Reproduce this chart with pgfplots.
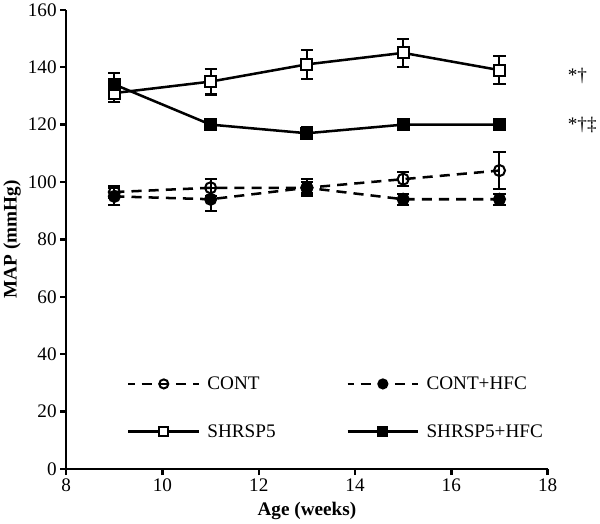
\documentclass[border=0pt]{standalone}
\usepackage{fontspec}
\setmainfont{Liberation Serif}
\usepackage{pgfplots}
\pgfplotsset{compat=1.18}
\begin{document}
\begin{tikzpicture}
\begin{axis}[
  scale only axis,
  width=477pt, height=455pt,
  xmin=8, xmax=18, ymin=0, ymax=160,
  axis lines=left,
  axis line style={line width=2.5pt, -},
  xtick={8,10,...,18},
  ytick={0,20,...,160},
  tick style={line width=2.5pt, black},
  major tick length=6pt,
  tick align=outside,
  tick label style={font=\fontsize{19}{22}\selectfont},
  /pgf/number format/assume math mode=true,
  xlabel={\bfseries Age (weeks)},
  ylabel={\bfseries MAP (mmHg)},
  label style={font=\fontsize{19}{22}\selectfont},
  xlabel style={yshift=-4pt},
  clip=false,
  legend columns=2,
  legend cell align=left,
  legend style={at={(0.12,0.21)}, anchor=north west, draw=none, fill=none,
    font=\fontsize{19}{22}\selectfont, row sep=29pt,
    /tikz/every odd column/.append style={column sep=5pt},
    /tikz/every even column/.append style={column sep=68pt}},
  legend image code/.code={\draw[mark repeat=2, mark phase=2, mark size=4.5pt, dash phase=4pt] plot coordinates {(0pt,0pt) (35pt,0pt) (70pt,0pt)};},
  every axis plot/.append style={black, line width=2.5pt},
  error bars/error bar style={line width=2pt, solid},
  error bars/error mark options={rotate=90, mark size=6pt, line width=2pt, solid},
]
% CONT
\addplot[dash pattern=on 10pt off 7pt, mark=o, mark size=5.5pt, mark options={solid, fill=white, line width=2pt},
  error bars/.cd, y dir=both, y explicit] coordinates {
  (9,96.5) +- (0,2) (11,98) +- (0,3) (13,98) +- (0,2) (15,101) +- (0,2.5) (17,104) +- (0,6.5)};
% CONT+HFC
\addplot[dash pattern=on 10pt off 7pt, mark=*, mark size=5.5pt, mark options={solid, fill=black, line width=2pt},
  error bars/.cd, y dir=both, y explicit] coordinates {
  (9,95) +- (0,3) (11,94) +- (0,4) (13,98) +- (0,3) (15,94) +- (0,2) (17,94) +- (0,2)};
% SHRSP5
\addplot[solid, mark=square*, mark size=5.5pt, mark options={fill=white, line width=2pt},
  error bars/.cd, y dir=both, y explicit] coordinates {
  (9,131) +- (0,3) (11,135) +- (0,4.5) (13,141) +- (0,5) (15,145) +- (0,5) (17,139) +- (0,5)};
% SHRSP5+HFC
\addplot[solid, mark=square*, mark size=5.5pt, mark options={fill=black, line width=2pt},
  error bars/.cd, y dir=both, y explicit] coordinates {
  (9,134) +- (0,4) (11,120) +- (0,2) (13,117) +- (0,2) (15,120) +- (0,2) (17,120) +- (0,2)};
\legend{CONT, CONT+HFC, SHRSP5, SHRSP5+HFC}
\node[font=\fontsize{19}{22}\selectfont] at (axis cs:18.62,137) {*†};
\node[font=\fontsize{19}{22}\selectfont] at (axis cs:18.72,120) {*†‡};
\end{axis}
\end{tikzpicture}
\end{document}
